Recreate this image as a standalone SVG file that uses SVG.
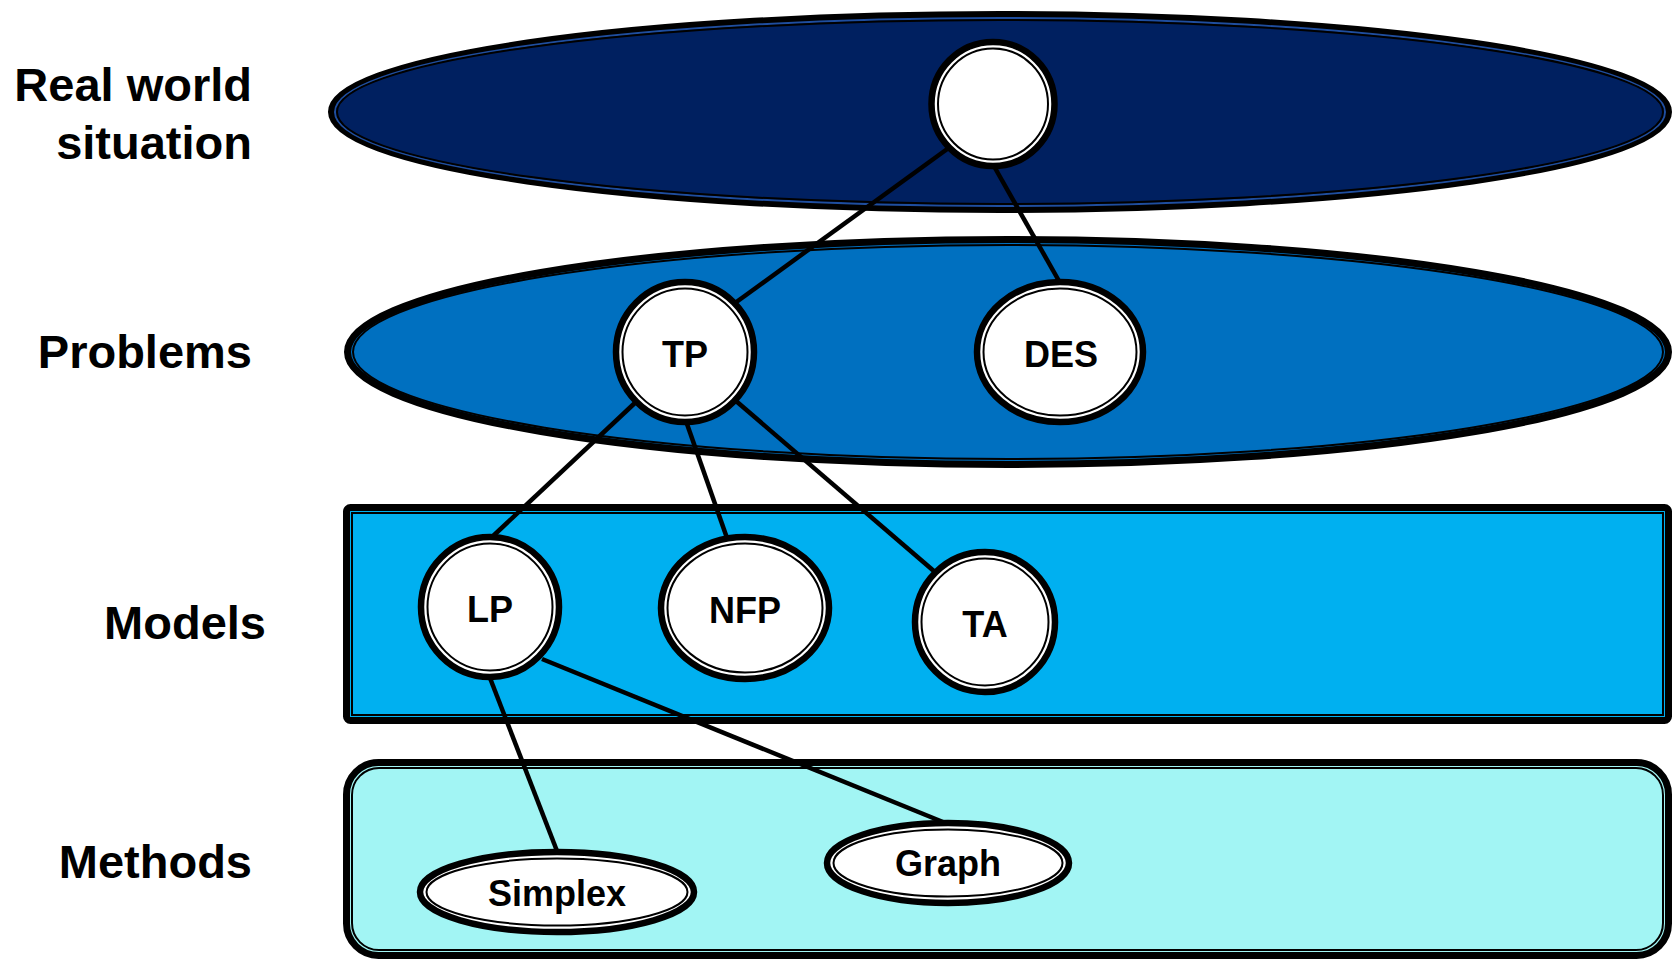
<svg xmlns="http://www.w3.org/2000/svg" width="1677" height="960" viewBox="0 0 1677 960">
<style>
.thick{stroke:#000;stroke-width:7}
.thin{fill:none;stroke:#000;stroke-width:2}
.node{fill:#fff;stroke:#000;stroke-width:6.5}
.nthin{fill:none;stroke:#000;stroke-width:2}
.lbl{font-family:"Liberation Sans",Arial,sans-serif;font-weight:bold;font-size:47px;fill:#000;text-anchor:end}
.ntxt{font-family:"Liberation Sans",Arial,sans-serif;font-weight:bold;font-size:36px;fill:#000;text-anchor:middle}
.conn{stroke:#000;stroke-width:4.5;fill:none}
</style>
<rect width="1677" height="960" fill="#fff"/>
<g id="layers">
  <g id="layer-real">
    <ellipse cx="1000" cy="112" rx="668.5" ry="97.5" class="thick" fill="#002060"/>
    <ellipse cx="1000" cy="112" rx="665" ry="94" fill="none" stroke="#1F4E9F" stroke-width="2"/>
    <ellipse cx="1000" cy="112" rx="663" ry="92" class="thin"/>
  </g>
  <g id="layer-problems">
    <ellipse cx="1008" cy="352" rx="660.5" ry="112.5" class="thick" fill="#0070C0"/>
    <ellipse cx="1008" cy="352" rx="655" ry="107" class="thin"/>
  </g>
  <g id="layer-models">
    <rect x="346.5" y="507.5" width="1322" height="213" rx="4" class="thick" fill="#00B0F0"/>
    <rect x="352" y="513" width="1311" height="202" class="thin"/>
  </g>
  <g id="layer-methods">
    <rect x="346.5" y="762.5" width="1322" height="193" rx="32" class="thick" fill="#A2F5F4"/>
    <rect x="352" y="768" width="1311" height="182" rx="27" class="thin"/>
  </g>
</g>
<g id="labels">
  <text class="lbl" x="252" y="101">Real world</text>
  <text class="lbl" x="252" y="159">situation</text>
  <text class="lbl" x="252" y="368">Problems</text>
  <text class="lbl" x="266" y="639">Models</text>
  <text class="lbl" x="252" y="878">Methods</text>
</g>
<g id="connectors">
  <line class="conn" x1="950" y1="147" x2="735" y2="303"/>
  <line class="conn" x1="995" y1="168" x2="1059" y2="281"/>
  <line class="conn" x1="637" y1="401" x2="492" y2="537"/>
  <line class="conn" x1="687" y1="424" x2="727" y2="538"/>
  <line class="conn" x1="736" y1="401" x2="935" y2="572"/>
  <line class="conn" x1="490" y1="678" x2="557" y2="851"/>
  <line class="conn" x1="542" y1="659" x2="943" y2="822"/>
</g>
<g id="node-real">
  <ellipse cx="993" cy="104" rx="61.5" ry="62" class="node"/>
  <ellipse cx="993" cy="104" rx="55" ry="55.5" class="nthin"/>
</g>
<g id="node-tp">
  <ellipse cx="685" cy="352" rx="69" ry="70" class="node"/>
  <ellipse cx="685" cy="352" rx="62.5" ry="63.5" class="nthin"/>
  <text class="ntxt" x="685" y="367">TP</text>
</g>
<g id="node-des">
  <ellipse cx="1060" cy="352" rx="83" ry="70" class="node"/>
  <ellipse cx="1060" cy="352" rx="76.5" ry="63.5" class="nthin"/>
  <text class="ntxt" x="1061" y="367">DES</text>
</g>
<g id="node-lp">
  <ellipse cx="490" cy="607" rx="69" ry="70" class="node"/>
  <ellipse cx="490" cy="607" rx="62.5" ry="63.5" class="nthin"/>
  <text class="ntxt" x="490" y="622">LP</text>
</g>
<g id="node-nfp">
  <ellipse cx="745" cy="608" rx="84" ry="71" class="node"/>
  <ellipse cx="745" cy="608" rx="77.5" ry="64.5" class="nthin"/>
  <text class="ntxt" x="745" y="623">NFP</text>
</g>
<g id="node-ta">
  <ellipse cx="985" cy="622" rx="70" ry="70" class="node"/>
  <ellipse cx="985" cy="622" rx="63.5" ry="63.5" class="nthin"/>
  <text class="ntxt" x="985" y="637">TA</text>
</g>
<g id="node-simplex">
  <ellipse cx="557" cy="892" rx="137" ry="40" class="node"/>
  <ellipse cx="557" cy="892" rx="130.5" ry="33.5" class="nthin"/>
  <text class="ntxt" x="557" y="906">Simplex</text>
</g>
<g id="node-graph">
  <ellipse cx="948" cy="863" rx="121" ry="40" class="node"/>
  <ellipse cx="948" cy="863" rx="114.5" ry="33.5" class="nthin"/>
  <text class="ntxt" x="948" y="876">Graph</text>
</g>
</svg>
